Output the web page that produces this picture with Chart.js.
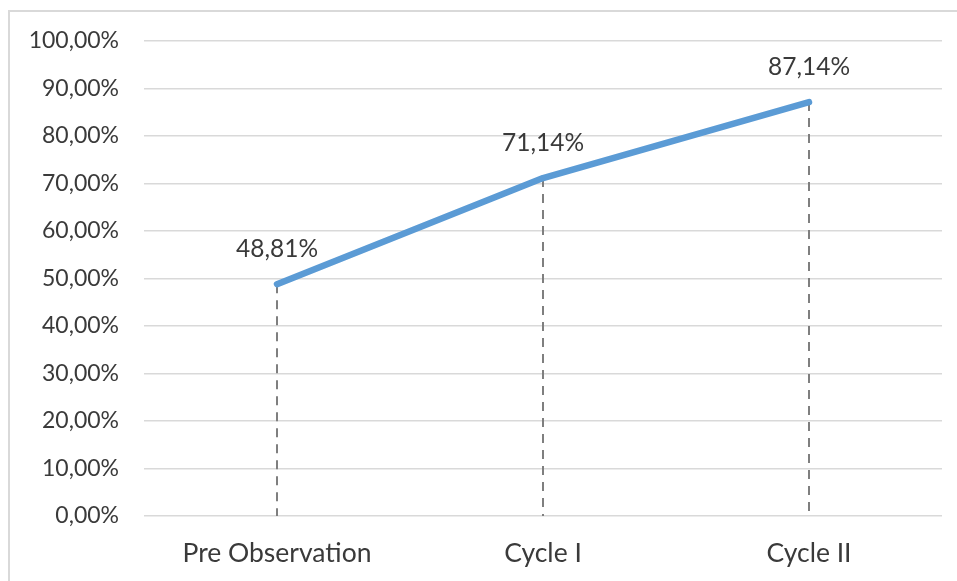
<!DOCTYPE html>
<html>
<head>
<meta charset="utf-8">
<script src="https://cdn.jsdelivr.net/npm/chart.js@4"></script>
<style>
  html, body { margin: 0; padding: 0; background: #fff; }
  #wrap { width: 957px; height: 581px; position: relative; }
</style>
</head>
<body>
<div id="wrap"><canvas id="myChart"></canvas></div>
<script>
// data
const categories = ['Pre Observation', 'Cycle I', 'Cycle II'];
const values = [48.81, 71.14, 87.14];
const yMin = 0, yMax = 100, yStep = 10;

const fmt = v => v.toFixed(2).replace('.', ',') + '%';
const textColor = '#3a3a3a';
const fontFamily = 'Lato, "Open Sans", sans-serif';

// drop lines, value labels and the frame edges
const extras = {
    id: 'extras',
    beforeDatasetsDraw(chart) {
        const ctx = chart.ctx;
        const meta = chart.getDatasetMeta(0);
        const base = chart.scales.y.getPixelForValue(0);
        ctx.save();
        ctx.strokeStyle = '#7f7f7f';
        ctx.lineWidth = 2;
        ctx.setLineDash([9, 7]);
        meta.data.forEach(p => {
            ctx.beginPath();
            ctx.moveTo(Math.round(p.x), p.y);
            ctx.lineTo(Math.round(p.x), base);
            ctx.stroke();
        });
        ctx.restore();
    },
    afterDatasetsDraw(chart) {
        const ctx = chart.ctx;
        const meta = chart.getDatasetMeta(0);
        ctx.save();
        ctx.fillStyle = textColor;
        ctx.font = '24.5px ' + fontFamily;
        ctx.textAlign = 'center';
        ctx.textBaseline = 'middle';
        meta.data.forEach((p, i) => {
            ctx.fillText(fmt(values[i]), p.x, p.y - 35);
        });
        ctx.restore();
    },
    afterDraw(chart) {
        const ctx = chart.ctx;
        ctx.save();
        ctx.fillStyle = '#d9d9d9';
        ctx.fillRect(8, 10, chart.width - 8, 2);
        ctx.fillRect(8, 10, 2, chart.height - 10);
        ctx.restore();
    }
};

document.addEventListener('DOMContentLoaded', () => {
    const ctx = document.getElementById('myChart');
    new Chart(ctx, {
        type: 'line',
        data: {
            labels: categories,
            datasets: [{
                data: values,
                borderColor: '#5b9bd5',
                borderWidth: 6.5,
                borderCapStyle: 'round',
                borderJoinStyle: 'round',
                pointRadius: 0,
                pointHoverRadius: 0,
                tension: 0,
                fill: false
            }]
        },
        options: {
            responsive: true,
            maintainAspectRatio: false,
            animation: false,
            layout: { padding: { top: 41, right: 15, left: 0, bottom: 0 } },
            plugins: {
                legend: { display: false },
                tooltip: { enabled: false }
            },
            scales: {
                x: {
                    offset: true,
                    grid: { display: false, drawTicks: false },
                    border: { display: false },
                    ticks: {
                        color: textColor,
                        font: { family: fontFamily, size: 26.5 },
                        padding: 22,
                        maxRotation: 0
                    },
                    afterFit(scale) { scale.height = 65; }
                },
                y: {
                    min: yMin,
                    max: yMax,
                    grid: { color: '#d9d9d9', lineWidth: 1.5, drawTicks: false },
                    border: { display: false },
                    ticks: {
                        stepSize: yStep,
                        color: textColor,
                        font: { family: fontFamily, size: 23 },
                        padding: 25,
                        callback: v => fmt(v)
                    },
                    afterFit(scale) { scale.width = 144; }
                }
            }
        },
        plugins: [extras]
    });
});
</script>
</body>
</html>
